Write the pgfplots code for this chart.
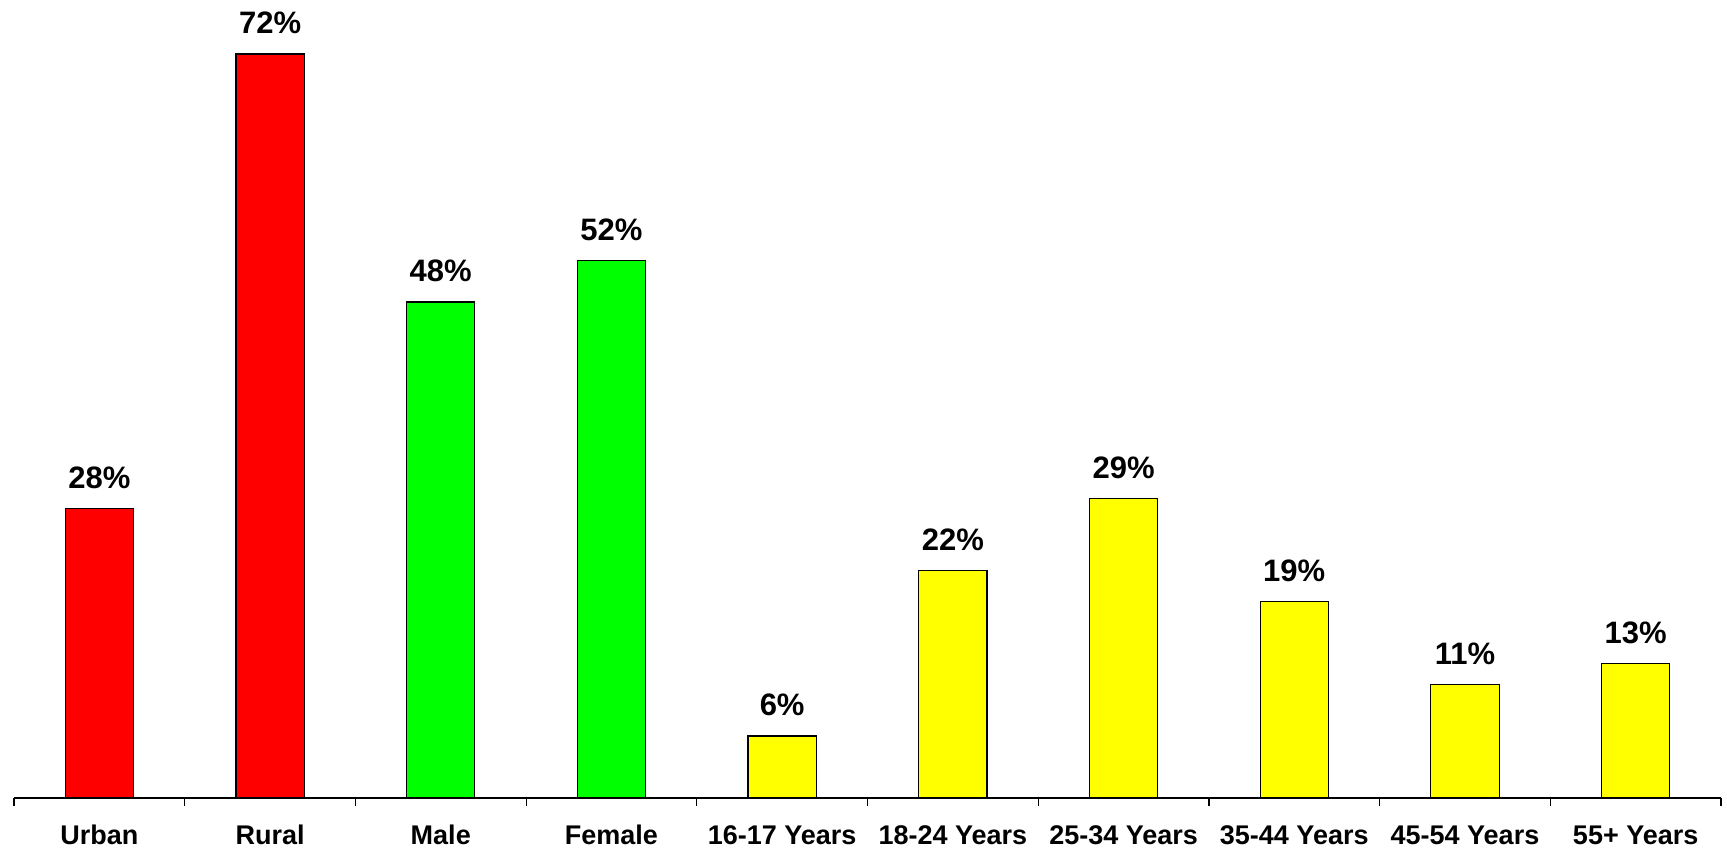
\documentclass[border=0pt]{standalone}
\usepackage{pgfplots}
\pgfplotsset{compat=1.18}
\usepackage{fontspec}
\setmainfont{Liberation Sans}
\begin{document}
\begin{tikzpicture}
\begin{axis}[
  at={(0,0)}, anchor=south west,
  scale only axis,
  width=853.5pt, height=387.5pt,
  xmin=-0.5, xmax=9.5, ymin=0, ymax=75,
  axis x line=bottom, axis y line=none,
  axis line style={-, line width=0.6pt, black},
  xtick={0,1,2,3,4,5,6,7,8,9},
  xticklabels={Urban,Rural,Male,Female,16-17 Years,18-24 Years,25-34 Years,35-44 Years,45-54 Years,55+ Years},
  major tick length=0pt,
  minor xtick={-0.5,0.5,1.5,2.5,3.5,4.5,5.5,6.5,7.5,8.5,9.5},
  minor tick length=4pt,
  tick align=outside,
  minor tick style={line width=0.6pt, black},
  xticklabel style={font=\fontsize{13.5}{16}\selectfont\bfseries, anchor=base, yshift=-23.5pt},
  ybar, bar width=0.4, bar shift=0pt,
  nodes near coords={\pgfmathprintnumber[assume math mode=true]{\pgfplotspointmeta}\%},
  every node near coord/.append style={font=\fontsize{15.5}{18}\selectfont\bfseries, anchor=base, yshift=10pt, text=black},
  clip=false,
]
\addplot[draw=black, line width=0.6pt, fill={rgb,255:red,255;green,0;blue,0}] coordinates {(0,28) (1,72)};
\addplot[draw=black, line width=0.6pt, fill={rgb,255:red,0;green,255;blue,0}] coordinates {(2,48) (3,52)};
\addplot[draw=black, line width=0.6pt, fill={rgb,255:red,255;green,255;blue,0}] coordinates {(4,6) (5,22) (6,29) (7,19) (8,11) (9,13)};
\end{axis}
\pgfresetboundingbox
\path[use as bounding box] (-7pt,-25.5pt) rectangle (856.5pt,399pt);
\end{tikzpicture}
\end{document}
